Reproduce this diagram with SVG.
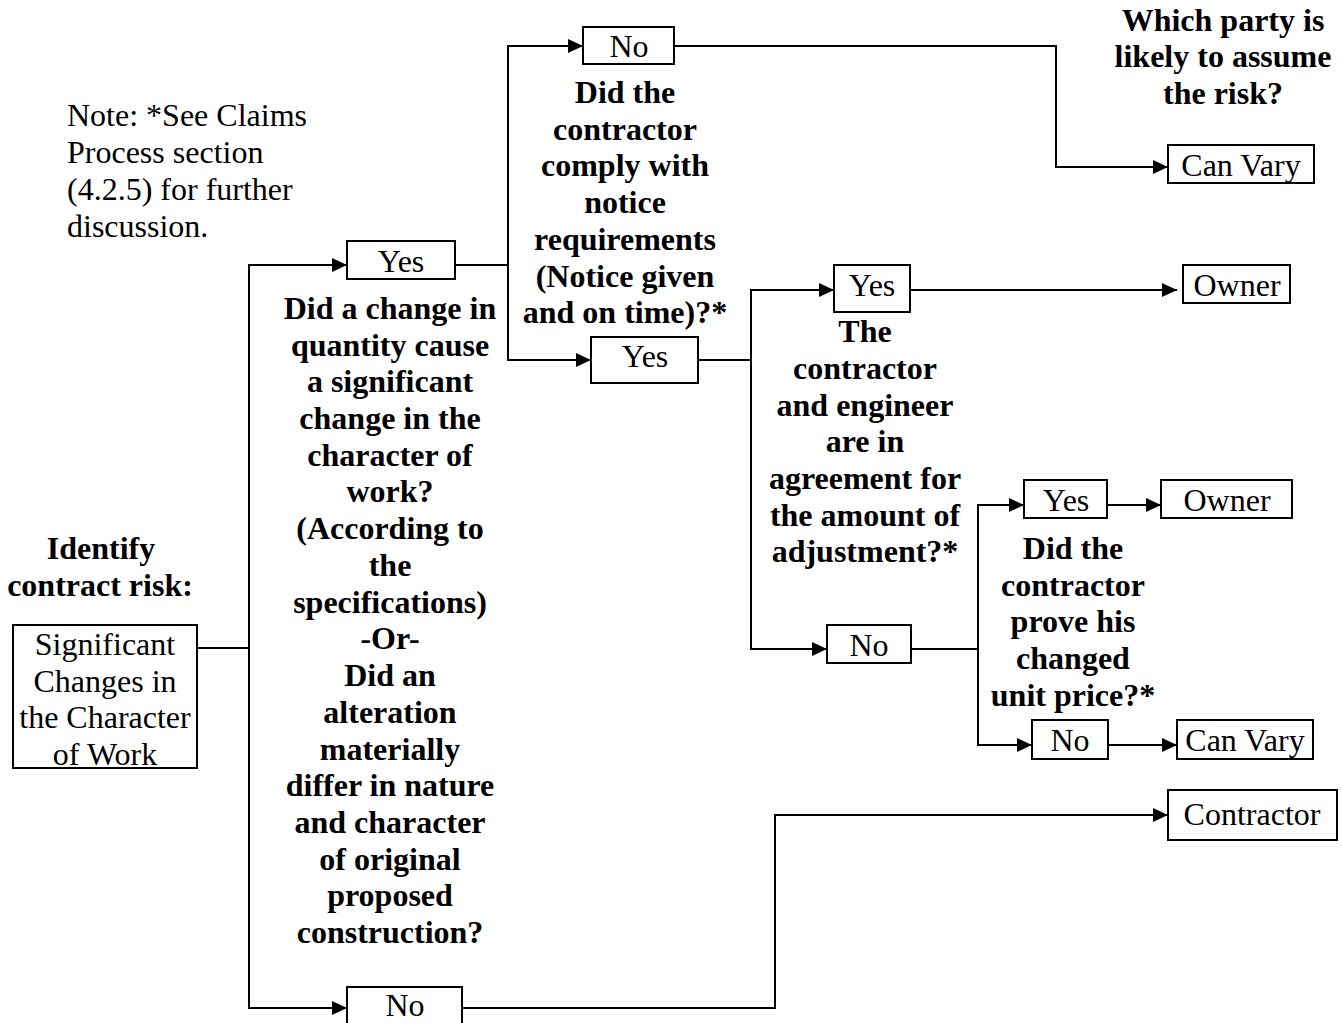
<svg xmlns="http://www.w3.org/2000/svg" width="1342" height="1023" viewBox="0 0 1342 1023">
  <style>
    .box { fill: #ffffff; stroke: #000000; stroke-width: 2; }
    .lbl { font-family: "Liberation Serif", "Times New Roman", serif; font-size: 32px; fill: #000000; text-anchor: middle; }
    .q { font-family: "Liberation Serif", "Times New Roman", serif; font-size: 32px; font-weight: bold; fill: #000000; text-anchor: middle; }
    .note { font-family: "Liberation Serif", "Times New Roman", serif; font-size: 32px; fill: #000000; }
    .wire { fill: none; stroke: #000000; stroke-width: 2; }
  </style>
  <defs>
    <marker id="arrow" markerUnits="userSpaceOnUse" markerWidth="16" markerHeight="14" refX="15" refY="7" orient="auto">
      <path d="M0,0 L15,7 L0,14 Z" fill="#000000"/>
    </marker>
  </defs>
  <rect width="1342" height="1023" fill="#ffffff"/>

  <!-- connectors -->
  <g id="connectors">
    <path class="wire" d="M197,648 H249"/>
    <path class="wire" d="M249,648 V265 H347" marker-end="url(#arrow)"/>
    <path class="wire" d="M249,648 V1008 H347" marker-end="url(#arrow)"/>
    <path class="wire" d="M455,265 H508 V46 H583" marker-end="url(#arrow)"/>
    <path class="wire" d="M508,265 V360 H591" marker-end="url(#arrow)"/>
    <path class="wire" d="M674,46 H1056 V167 H1168" marker-end="url(#arrow)"/>
    <path class="wire" d="M698,360 H751 V290 H834" marker-end="url(#arrow)"/>
    <path class="wire" d="M751,360 V649 H827" marker-end="url(#arrow)"/>
    <path class="wire" d="M910,290 H1177" marker-end="url(#arrow)"/>
    <path class="wire" d="M911,649 H978 V505 H1024" marker-end="url(#arrow)"/>
    <path class="wire" d="M978,649 V745 H1032" marker-end="url(#arrow)"/>
    <path class="wire" d="M1107,505 H1161" marker-end="url(#arrow)"/>
    <path class="wire" d="M1108,745 H1177" marker-end="url(#arrow)"/>
    <path class="wire" d="M462,1008 H775 V815 H1168" marker-end="url(#arrow)"/>
  </g>

  <!-- free text -->
  <g id="note">
    <text class="note" x="67" y="126">Note: *See Claims</text>
    <text class="note" x="67" y="163">Process section</text>
    <text class="note" x="67" y="200">(4.2.5) for further</text>
    <text class="note" x="67" y="237">discussion.</text>
  </g>
  <g id="heading-risk">
    <text class="q" x="101" y="559">Identify</text>
    <text class="q" x="100" y="596">contract risk:</text>
  </g>
  <g id="heading-party">
    <text class="q" x="1223" y="31">Which party is</text>
    <text class="q" x="1223" y="67">likely to assume</text>
    <text class="q" x="1223" y="104">the risk?</text>
  </g>

  <!-- questions -->
  <g id="q-change">
    <text class="q" x="390" y="319">Did a change in</text>
    <text class="q" x="390" y="356">quantity cause</text>
    <text class="q" x="390" y="392">a significant</text>
    <text class="q" x="390" y="429">change in the</text>
    <text class="q" x="390" y="466">character of</text>
    <text class="q" x="390" y="502">work?</text>
    <text class="q" x="390" y="539">(According to</text>
    <text class="q" x="390" y="576">the</text>
    <text class="q" x="390" y="613">specifications)</text>
    <text class="q" x="390" y="649">-Or-</text>
    <text class="q" x="390" y="686">Did an</text>
    <text class="q" x="390" y="723">alteration</text>
    <text class="q" x="390" y="760">materially</text>
    <text class="q" x="390" y="796">differ in nature</text>
    <text class="q" x="390" y="833">and character</text>
    <text class="q" x="390" y="870">of original</text>
    <text class="q" x="390" y="906">proposed</text>
    <text class="q" x="390" y="943">construction?</text>
  </g>
  <g id="q-notice">
    <text class="q" x="625" y="103">Did the</text>
    <text class="q" x="625" y="140">contractor</text>
    <text class="q" x="625" y="176">comply with</text>
    <text class="q" x="625" y="213">notice</text>
    <text class="q" x="625" y="250">requirements</text>
    <text class="q" x="625" y="287">(Notice given</text>
    <text class="q" x="625" y="323">and on time)?*</text>
  </g>
  <g id="q-agreement">
    <text class="q" x="865" y="342">The</text>
    <text class="q" x="865" y="379">contractor</text>
    <text class="q" x="865" y="416">and engineer</text>
    <text class="q" x="865" y="452">are in</text>
    <text class="q" x="865" y="489">agreement for</text>
    <text class="q" x="865" y="526">the amount of</text>
    <text class="q" x="865" y="562">adjustment?*</text>
  </g>
  <g id="q-price">
    <text class="q" x="1073" y="559">Did the</text>
    <text class="q" x="1073" y="596">contractor</text>
    <text class="q" x="1073" y="632">prove his</text>
    <text class="q" x="1073" y="669">changed</text>
    <text class="q" x="1073" y="706">unit price?*</text>
  </g>

  <!-- nodes -->
  <g id="start">
    <rect class="box" x="13" y="625" width="184" height="143"/>
    <text class="lbl" x="105" y="655">Significant</text>
    <text class="lbl" x="105" y="692">Changes in</text>
    <text class="lbl" x="105" y="728">the Character</text>
    <text class="lbl" x="105" y="765">of Work</text>
  </g>
  <g id="yes-change">
    <rect class="box" x="347" y="241" width="108" height="38"/>
    <text class="lbl" x="401" y="272">Yes</text>
  </g>
  <g id="no-change">
    <rect class="box" x="347" y="987" width="115" height="40"/>
    <text class="lbl" x="405" y="1016">No</text>
  </g>
  <g id="no-notice">
    <rect class="box" x="583" y="27" width="91" height="37"/>
    <text class="lbl" x="629" y="57">No</text>
  </g>
  <g id="yes-notice">
    <rect class="box" x="591" y="337" width="107" height="46"/>
    <text class="lbl" x="645" y="367">Yes</text>
  </g>
  <g id="result-vary-1">
    <rect class="box" x="1168" y="145" width="146" height="38"/>
    <text class="lbl" x="1241" y="176">Can Vary</text>
  </g>
  <g id="yes-agree">
    <rect class="box" x="834" y="265" width="76" height="47"/>
    <text class="lbl" x="872" y="296">Yes</text>
  </g>
  <g id="result-owner-1">
    <rect class="box" x="1183" y="265" width="107" height="38"/>
    <text class="lbl" x="1237" y="296">Owner</text>
  </g>
  <g id="no-agree">
    <rect class="box" x="827" y="625" width="84" height="38"/>
    <text class="lbl" x="869" y="656">No</text>
  </g>
  <g id="yes-price">
    <rect class="box" x="1024" y="480" width="83" height="38"/>
    <text class="lbl" x="1066" y="511">Yes</text>
  </g>
  <g id="result-owner-2">
    <rect class="box" x="1161" y="480" width="131" height="38"/>
    <text class="lbl" x="1227" y="511">Owner</text>
  </g>
  <g id="no-price">
    <rect class="box" x="1032" y="720" width="76" height="39"/>
    <text class="lbl" x="1070" y="751">No</text>
  </g>
  <g id="result-vary-2">
    <rect class="box" x="1177" y="720" width="136" height="39"/>
    <text class="lbl" x="1245" y="751">Can Vary</text>
  </g>
  <g id="result-contractor">
    <rect class="box" x="1168" y="790" width="169" height="50"/>
    <text class="lbl" x="1252" y="825">Contractor</text>
  </g>
</svg>
